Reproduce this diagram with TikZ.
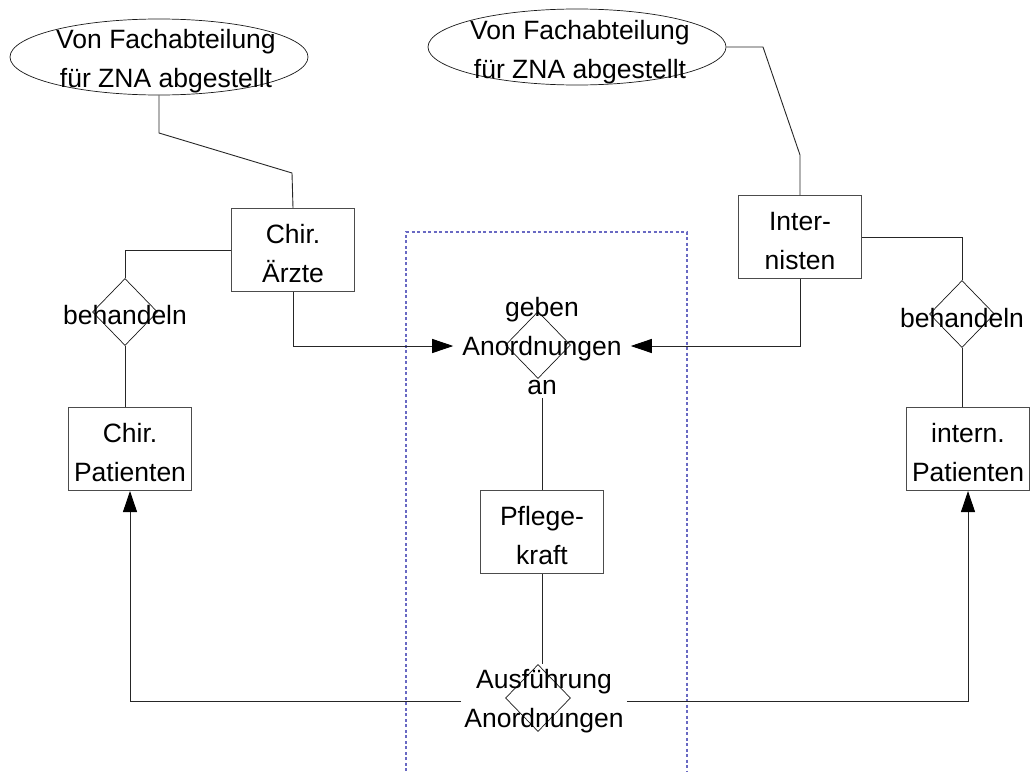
\documentclass[tikz,border=0pt]{standalone}
\usepackage{fontspec}
\setmainfont{Liberation Sans}
\usetikzlibrary{shapes.geometric,arrows.meta}
\definecolor{grpblue}{RGB}{105,105,195}
\begin{document}
\begin{tikzpicture}[x=1pt,y=-1pt,
  every node/.style={font=\fontsize{26.5}{39}\selectfont, align=center},
  entity/.style={draw=black!70, line width=1pt, minimum width=123pt, minimum height=83pt, inner sep=0pt,
    label={[yshift=-4pt]center:#1}},
  relation/.style={diamond, draw=black!90, line width=0.7pt, inner sep=0pt, minimum width=65pt, minimum height=67pt},
  attrib/.style={ellipse, draw=black!90, line width=0.7pt, inner sep=0pt, minimum width=298pt, minimum height=76pt},
  rtext/.style={inner xsep=3pt, inner ysep=2pt},
  link/.style={draw=black!85, line width=0.9pt},
  arrowlink/.style={link, -{Triangle[length=21pt,width=14pt,color=black]}},
  grouping/.style={draw=grpblue, line width=1.2pt, dash pattern=on 3pt off 2.5pt}
]
\useasboundingbox (0,0) rectangle (1030,771);

% dashed group frame, open at the bottom
\draw[grouping] (406,771) -- (406,232) -- (687,232) -- (687,771);

% attributes
\node[attrib] (ellL) at (159,57) {};
\node (ellLtxt) at (166,61) {Von Fachabteilung\\für ZNA abgestellt};
\node[attrib] (ellR) at (577,47) {};
\node (ellRtxt) at (580,52) {Von Fachabteilung\\für ZNA abgestellt};

% entities
\node[entity={Chir.\\Ärzte}] (chir) at (293,250) {};
\node[entity={Chir.\\Patienten}] (cpat) at (130,449) {};
\node[entity={Inter-\\nisten}] (intern) at (800,237) {};
\node[entity={intern.\\Patienten}] (ipat) at (968,449) {};
\node[entity={Pflege-\\kraft}] (pflege) at (542,532) {};

% relationships
\node[relation] (behL) at (125,312) {};
\node (behLtxt) at (125,315) {behandeln};
\node[relation] (behR) at (962,314) {};
\node (behRtxt) at (962,318) {behandeln};
\node[relation] (geben) at (538,345) {};
\node[inner xsep=9pt, inner ysep=3pt] (gebentxt) at (542,346) {geben\\Anordnungen\\an};
\node[relation] (ausf) at (538,698) {};
\node[rtext] (ausftxt) at (544,701) {Ausführung\\Anordnungen};

% bend points
\coordinate (kL1) at (159,133);
\coordinate (kL2) at (292,173);
\coordinate (kR1) at (763,47);
\coordinate (kR2) at (800,155);

% connectors
\draw[link] (ellL.south) -- (kL1) -- (kL2) -- (chir.north);
\draw[link] (ellR.east) -- (kR1) -- (kR2) -- (intern.north);
\draw[link] (chir.west) -| (behL.north);
\draw[link] (behL.south) -- (behL.south |- cpat.north);
\draw[link] (intern.east) -| (behR.north);
\draw[link] (behR.south) -- (behR.south |- ipat.north);
\draw[arrowlink] (chir.south) |- (gebentxt.west);
\draw[arrowlink] (intern.south) |- (gebentxt.east);
\draw[link] (pflege.north |- gebentxt.south) -- (pflege.north);
\draw[link] (pflege.south) -- (pflege.south |- ausf.north);
\draw[arrowlink] (ausftxt.west) -| (cpat.south);
\draw[arrowlink] (ausftxt.east) -| (ipat.south);
\end{tikzpicture}
\end{document}
